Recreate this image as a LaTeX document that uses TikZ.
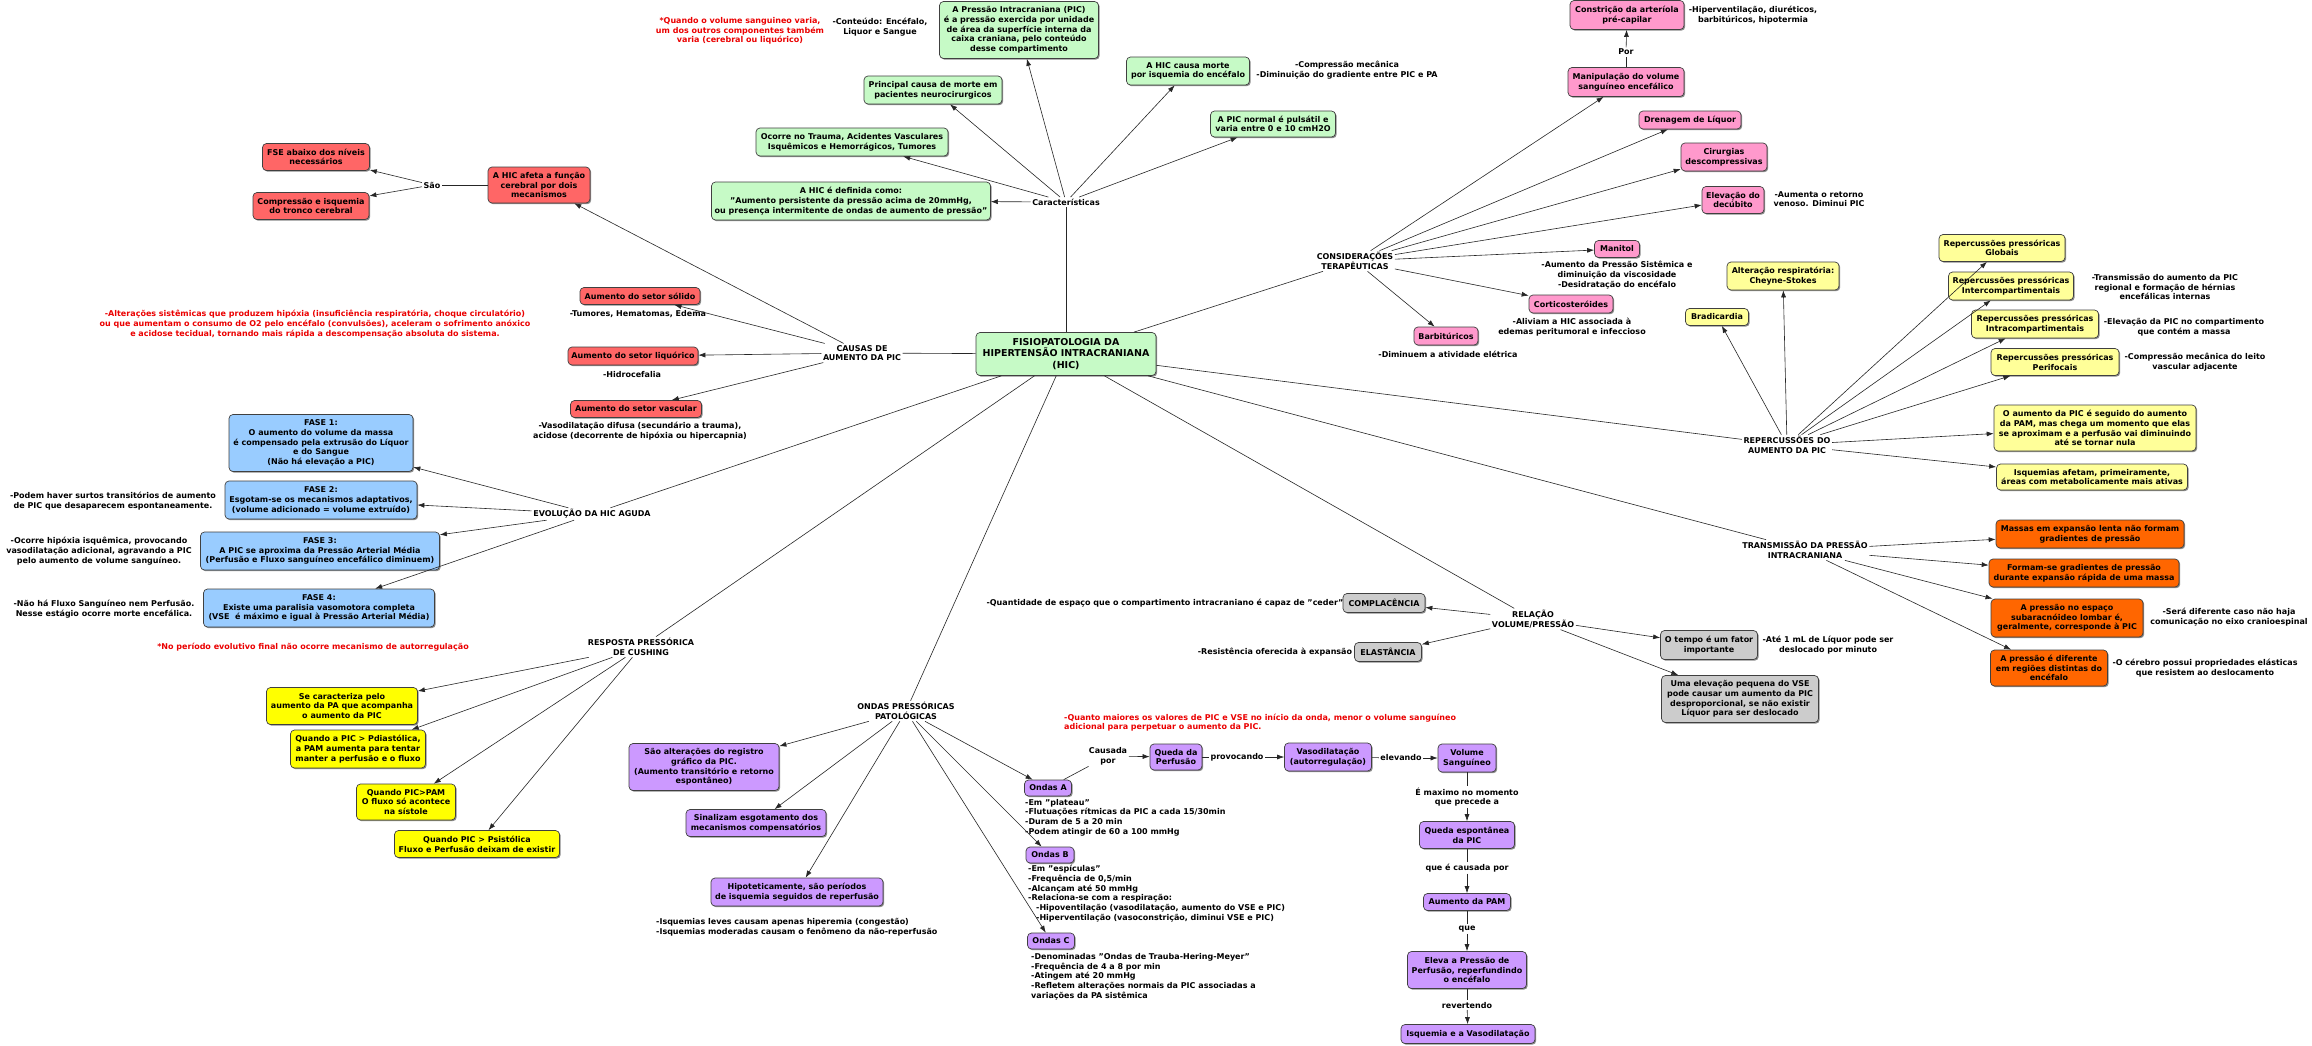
\documentclass[tikz,border=0pt]{standalone}
\usepackage{fontspec}
\setmainfont{DejaVu Sans}
\usetikzlibrary{arrows.meta,shadows}
\definecolor{cgreen}{RGB}{198,250,198}
\definecolor{cred}{RGB}{255,102,102}
\definecolor{cpink}{RGB}{255,153,204}
\definecolor{cylight}{RGB}{255,255,153}
\definecolor{cblue}{RGB}{153,204,255}
\definecolor{cyel}{RGB}{255,255,0}
\definecolor{corange}{RGB}{255,102,0}
\definecolor{cpurple}{RGB}{204,153,255}
\definecolor{cgray}{RGB}{204,204,204}
\definecolor{ctxtred}{RGB}{235,0,0}
\newcommand\mapfont{\fontsize{8}{9.7}\selectfont\bfseries}
\newcommand\bigmapfont{\fontsize{9.5}{11.5}\selectfont\bfseries}
\begin{document}
\begin{tikzpicture}[x=1pt,y=1pt,
  bx/.style={draw=black!75, line width=0.7pt, rounded corners=4pt, align=center, font=\mapfont, inner sep=1pt,
     drop shadow={shadow xshift=1.2pt, shadow yshift=-1.2pt, fill=black!45, opacity=1}},
  sz/.style 2 args={minimum width=#1, minimum height=#2},
  gbox/.style={bx, fill=cgreen},
  rbox/.style={bx, fill=cred},
  pbox/.style={bx, fill=cpink},
  ylbox/.style={bx, fill=cylight},
  blbox/.style={bx, fill=cblue},
  yybox/.style={bx, fill=cyel},
  obox/.style={bx, fill=corange},
  vlbox/.style={bx, fill=cpurple},
  kbox/.style={bx, fill=cgray},
  lbl/.style={align=center, font=\mapfont, inner sep=1.5pt},
  note/.style={align=center, font=\mapfont, inner sep=0pt},
  lnote/.style={align=left, font=\mapfont, inner sep=0pt, anchor=west},
  rnote/.style={note, text=ctxtred},
  ln/.style={draw=black!85, line width=0.6pt},
  ar/.style={ln, -{Latex[length=7pt,width=5pt]}},
]
\useasboundingbox (0,0) rectangle (2312,-1045);
\fill[white] (0,0) rectangle (2312,-1045);

% ---------- central ----------
\node[gbox, sz={180}{43}, font=\bigmapfont] (central) at (1066,-354) {FISIOPATOLOGIA DA\\HIPERTENSÃO INTRACRANIANA\\(HIC)};

% ---------- Caracteristicas ----------
\node[lbl] (carac) at (1066,-202) {Características};
\node[gbox, sz={159}{57}] (pic) at (1019,-30) {A Pressão Intracraniana (PIC)\\é a pressão exercida por unidade\\de área da superfície interna da\\caixa craniana, pelo conteúdo\\desse compartimento};
\node[gbox, sz={138}{28}] (principal) at (933,-90) {Principal causa de morte em\\pacientes neurocirurgicos};
\node[gbox, sz={192}{28}] (ocorre) at (852,-142) {Ocorre no Trauma, Acidentes Vasculares\\Isquêmicos e Hemorrágicos, Tumores};
\node[gbox, sz={279}{38}] (definida) at (851,-201) {A HIC é definida como:\\"Aumento persistente da pressão acima de 20mmHg,\\ou presença intermitente de ondas de aumento de pressão"};
\node[gbox, sz={123}{28}] (morte) at (1188,-71) {A HIC causa morte\\por isquemia do encéfalo};
\node[gbox, sz={125}{26}] (normal) at (1273,-124) {A PIC normal é pulsátil e\\varia entre 0 e 10 cmH2O};
\node[rnote] (redvol) at (740,-31) {*Quando o volume sanguineo varia,\\um dos outros componentes também\\varia (cerebral ou liquórico)};
\node[note] (conteudo) at (880,-27) {-Conteúdo: Encéfalo,\\Liquor e Sangue};
\node[note] (compmec) at (1347,-70) {-Compressão mecânica\\-Diminuição do gradiente entre PIC e PA};

% ---------- Causas ----------
\node[lbl] (causas) at (862,-353) {CAUSAS DE\\AUMENTO DA PIC};
\node[rbox, sz={102}{36}] (afeta) at (539,-185) {A HIC afeta a função\\cerebral por dois\\mecanismos};
\node[lbl] (sao) at (432,-185) {São};
\node[rbox, sz={107}{27}] (fse) at (316,-157) {FSE abaixo dos níveis\\necessários};
\node[rbox, sz={116}{27}] (compr) at (311,-206) {Compressão e isquemia\\do tronco cerebral};
\node[rbox, sz={120}{17}] (solido) at (640,-296) {Aumento do setor sólido};
\node[note] (tumores) at (638,-314) {-Tumores, Hematomas, Edema};
\node[rbox, sz={130}{18}] (liquorico) at (633,-356) {Aumento do setor liquórico};
\node[note] (hidro) at (632,-375) {-Hidrocefalia};
\node[rbox, sz={131}{17}] (vascular) at (636,-409) {Aumento do setor vascular};
\node[note] (vasodif) at (640,-431) {-Vasodilatação difusa (secundário a trauma),\\acidose (decorrente de hipóxia ou hipercapnia)};
\node[rnote] (redsist) at (315,-324) {-Alterações sistêmicas que produzem hipóxia (insuficiência respiratória, choque circulatório)\\ou que aumentam o consumo de O2 pelo encéfalo (convulsões), aceleram o sofrimento anóxico\\e acidose tecidual, tornando mais rápida a descompensação absoluta do sistema.};

% ---------- Evolucao ----------
\node[lbl] (evol) at (592,-514) {EVOLUÇÃO DA HIC AGUDA};
\node[blbox, sz={184}{57}] (f1) at (321,-443) {FASE 1:\\O aumento do volume da massa\\é compensado pela extrusão do Líquor\\e do Sangue\\(Não há elevação a PIC)};
\node[blbox, sz={192}{38}] (f2) at (321,-500) {FASE 2:\\Esgotam-se os mecanismos adaptativos,\\(volume adicionado = volume extruído)};
\node[blbox, sz={239}{38}] (f3) at (320,-551) {FASE 3:\\A PIC se aproxima da Pressão Arterial Média\\(Perfusão e Fluxo sanguíneo encefálico diminuem)};
\node[blbox, sz={231}{38}] (f4) at (319,-608) {FASE 4:\\Existe uma paralisia vasomotora completa\\(VSE\ \ é máximo e igual à Pressão Arterial Média)};
\node[note] (podem) at (113,-501) {-Podem haver surtos transitórios de aumento\\de PIC que desaparecem espontaneamente.};
\node[note] (hipox) at (99,-551) {-Ocorre hipóxia isquêmica, provocando\\vasodilatação adicional, agravando a PIC\\pelo aumento de volume sanguíneo.};
\node[note] (naoha) at (104,-609) {-Não há Fluxo Sanguíneo nem Perfusão.\\Nesse estágio ocorre morte encefálica.};
\node[rnote] (redfinal) at (313,-647) {*No período evolutivo final não ocorre mecanismo de autorregulação};

% ---------- Cushing ----------
\node[lbl] (resp) at (641,-647) {RESPOSTA PRESSÓRICA\\DE CUSHING};
\node[yybox, sz={151}{37}] (cush1) at (342,-706) {Se caracteriza pelo\\aumento da PA que acompanha\\o aumento da PIC};
\node[yybox, sz={135}{38}] (cush2) at (358,-749) {Quando a PIC > Pdiastólica,\\a PAM aumenta para tentar\\manter a perfusão e o fluxo};
\node[yybox, sz={99}{36}] (cush3) at (406,-802) {Quando PIC>PAM\\O fluxo só acontece\\na sístole};
\node[yybox, sz={165}{27}] (cush4) at (477,-844) {Quando PIC > Psistólica\\Fluxo e Perfusão deixam de existir};

% ---------- Ondas ----------
\node[lbl] (ondas) at (906,-711) {ONDAS PRESSÓRICAS\\PATOLÓGICAS};
\node[vlbox, sz={150}{47}] (salt) at (704,-767) {São alterações do registro\\gráfico da PIC.\\(Aumento transitório e retorno\\espontâneo)};
\node[vlbox, sz={140}{27}] (sinal) at (756,-823) {Sinalizam esgotamento dos\\mecanismos compensatórios};
\node[vlbox, sz={172}{28}] (hipot) at (797,-892) {Hipoteticamente, são períodos\\de isquemia seguidos de reperfusão};
\node[lnote] (isqleves) at (656,-927) {-Isquemias leves causam apenas hiperemia (congestão)\\-Isquemias moderadas causam o fenômeno da não-reperfusão};
\node[vlbox, sz={47}{16}] (ondasA) at (1048,-788) {Ondas A};
\node[vlbox, sz={48}{16}] (ondasB) at (1050,-855) {Ondas B};
\node[vlbox, sz={47}{16}] (ondasC) at (1051,-941) {Ondas C};
\node[lnote] (txtA) at (1025,-817.5) {-Em "plateau"\\-Flutuações rítmicas da PIC a cada 15/30min\\-Duram de 5 a 20 min\\-Podem atingir de 60 a 100 mmHg};
\node[lnote] (txtB) at (1028,-893.5) {-Em "espículas"\\-Frequência de 0,5/min\\-Alcançam até 50 mmHg\\-Relaciona-se com a respiração:\\\hspace*{1em}-Hipoventilação (vasodilatação, aumento do VSE e PIC)\\\hspace*{1em}-Hiperventilação (vasoconstrição, diminui VSE e PIC)};
\node[lnote] (txtC) at (1031,-976.5) {-Denominadas "Ondas de Trauba-Hering-Meyer"\\-Frequência de 4 a 8 por min\\-Atingem até 20 mmHg\\-Refletem alterações normais da PIC associadas a\\variações da PA sistêmica};
\node[lnote, text=ctxtred] (redondas) at (1064,-722.5) {-Quanto maiores os valores de PIC e VSE no início da onda, menor o volume sanguíneo\\adicional para perpetuar o aumento da PIC.};
\node[lbl] (causada) at (1108,-756) {Causada\\por};
\node[vlbox, sz={52}{26}] (queda) at (1176,-757) {Queda da\\Perfusão};
\node[lbl] (provoc) at (1237,-757) {provocando};
\node[vlbox, sz={87}{28}] (vaso) at (1328,-757) {Vasodilatação\\(autorregulação)};
\node[lbl] (elevando) at (1401,-758) {elevando};
\node[vlbox, sz={58}{28}] (volume) at (1467,-758) {Volume\\Sanguíneo};
\node[lbl] (emax) at (1467,-797) {É maximo no momento\\que precede a};
\node[vlbox, sz={95}{27}] (qesp) at (1467,-835) {Queda espontânea\\da PIC};
\node[lbl] (qcausada) at (1467,-868) {que é causada por};
\node[vlbox, sz={87}{17}] (aumpam) at (1467,-902) {Aumento da PAM};
\node[lbl] (que) at (1467,-929) {que};
\node[vlbox, sz={119}{37}] (eleva) at (1467,-970) {Eleva a Pressão de\\Perfusão, reperfundindo\\o encéfalo};
\node[lbl] (revert) at (1467,-1005) {revertendo};
\node[vlbox, sz={134}{19}] (isqv) at (1468,-1034) {Isquemia e a Vasodilatação};

% ---------- Consideracoes ----------
\node[lbl] (cons) at (1355,-261) {CONSIDERAÇÕES\\TERAPÊUTICAS};
\node[pbox, sz={114}{29}] (constr) at (1627,-15) {Constrição da arteríola\\pré-capilar};
\node[note] (hiperv) at (1753,-15) {-Hiperventilação, diuréticos,\\barbitúricos, hipotermia};
\node[lbl] (por) at (1626,-52) {Por};
\node[pbox, sz={116}{29}] (manip) at (1626,-82) {Manipulação do volume\\sanguíneo encefálico};
\node[pbox, sz={102}{18}] (drenagem) at (1690,-120) {Drenagem de Líquor};
\node[pbox, sz={86}{28}] (cirurgias) at (1724,-157) {Cirurgias\\descompressivas};
\node[pbox, sz={62}{27}] (elevacao) at (1733,-200) {Elevação do\\decúbito};
\node[note] (aumret) at (1819,-199) {-Aumenta o retorno\\venoso. Diminui PIC};
\node[pbox, sz={45}{17}] (manitol) at (1617,-249) {Manitol};
\node[note] (aumpress) at (1617,-275) {-Aumento da Pressão Sistêmica e\\diminuição da viscosidade\\-Desidratação do encéfalo};
\node[pbox, sz={84}{18}] (cortico) at (1571,-304) {Corticosteróides};
\node[note] (aliviam) at (1572,-327) {-Aliviam a HIC associada à\\edemas peritumoral e infeccioso};
\node[pbox, sz={64}{18}] (barbi) at (1446,-336) {Barbitúricos};
\node[note] (diminuem) at (1448,-354) {-Diminuem a atividade elétrica};

% ---------- Repercussoes ----------
\node[lbl] (reperc) at (1787,-445) {REPERCUSSÕES DO\\AUMENTO DA PIC};
\node[ylbox, sz={126}{27}] (globais) at (2002,-248) {Repercussões pressóricas\\Globais};
\node[ylbox, sz={112}{28}] (alter) at (1783,-276) {Alteração respiratória:\\Cheyne-Stokes};
\node[ylbox, sz={63}{17}] (bradi) at (1717,-317) {Bradicardia};
\node[ylbox, sz={125}{28}] (inter) at (2011,-286) {Repercussões pressóricas\\Intercompartimentais};
\node[note] (transtxt) at (2165,-287) {-Transmissão do aumento da PIC\\regional e formação de hérnias\\encefálicas internas};
\node[ylbox, sz={127}{28}] (intra) at (2035,-324) {Repercussões pressóricas\\Intracompartimentais};
\node[note] (elevpic) at (2184,-327) {-Elevação da PIC no compartimento\\que contém a massa};
\node[ylbox, sz={128}{27}] (peri) at (2055,-362) {Repercussões pressóricas\\Perifocais};
\node[note] (compleito) at (2195,-362) {-Compressão mecânica do leito\\vascular adjacente};
\node[ylbox, sz={202}{46}] (oaum) at (2095,-428) {O aumento da PIC é seguido do aumento\\da PAM, mas chega um momento que elas\\se aproximam e a perfusão vai diminuindo\\até se tornar nula};
\node[ylbox, sz={191}{26}] (isq) at (2092,-477) {Isquemias afetam, primeiramente,\\áreas com metabolicamente mais ativas};

% ---------- Transmissao ----------
\node[lbl] (transm) at (1805,-550) {TRANSMISSÃO DA PRESSÃO\\INTRACRANIANA};
\node[obox, sz={188}{28}] (massas) at (2090,-534) {Massas em expansão lenta não formam\\gradientes de pressão};
\node[obox, sz={190}{28}] (formam) at (2084,-573) {Formam-se gradientes de pressão\\durante expansão rápida de uma massa};
\node[obox, sz={152}{38}] (subarac) at (2067,-618) {A pressão no espaço\\subaracnóideo lombar é,\\geralmente, corresponde à PIC};
\node[note] (sera) at (2229,-617) {-Será diferente caso não haja\\comunicação no eixo cranioespinal};
\node[obox, sz={117}{36}] (dif) at (2049,-668) {A pressão é diferente\\em regiões distintas do\\encéfalo};
\node[note] (cerebro) at (2205,-668) {-O cérebro possui propriedades elásticas\\que resistem ao deslocamento};

% ---------- Relacao volume/pressao ----------
\node[lbl] (relacao) at (1533,-619) {RELAÇÃO\\VOLUME/PRESSÃO};
\node[kbox, sz={82}{19}] (compl) at (1384,-603) {COMPLACÊNCIA};
\node[note] (quant) at (1165,-603) {-Quantidade de espaço que o compartimento intracraniano é capaz de "ceder"};
\node[kbox, sz={67}{19}] (elast) at (1388,-652) {ELASTÂNCIA};
\node[note] (resist) at (1275,-652) {-Resistência oferecida à expansão};
\node[kbox, sz={97}{29}] (tempo) at (1709,-645) {O tempo é um fator\\importante};
\node[note] (ate1) at (1828,-645) {-Até 1 mL de Líquor pode ser\\deslocado por minuto};
\node[kbox, sz={157}{47}] (elev) at (1740,-699) {Uma elevação pequena do VSE\\pode causar um aumento da PIC\\desproporcional, se não existir\\Líquor para ser deslocado};

% ---------- connectors ----------
\draw[ln] (central) -- (carac);
\foreach \t in {pic,principal,ocorre,definida,morte,normal} \draw[ar] (carac) -- (\t);
\draw[ln] (central) -- (causas);
\foreach \t in {afeta,solido,liquorico,vascular} \draw[ar] (causas) -- (\t);
\draw[ln] (afeta) -- (sao);
\draw[ar] (sao) -- (fse);
\draw[ar] (sao) -- (compr);
\draw[ln] (central) -- (evol);
\foreach \t in {f1,f2,f3,f4} \draw[ar] (evol) -- (\t);
\draw[ln] (central) -- (resp);
\foreach \t in {cush1,cush2,cush3,cush4} \draw[ar] (resp) -- (\t);
\draw[ln] (central) -- (ondas);
\foreach \t in {salt,sinal,hipot,ondasA,ondasB,ondasC} \draw[ar] (ondas) -- (\t);
\draw[ln] (ondasA) -- (causada);
\draw[ar] (causada) -- (queda);
\draw[ln] (queda) -- (provoc);
\draw[ar] (provoc) -- (vaso);
\draw[ln] (vaso) -- (elevando);
\draw[ar] (elevando) -- (volume);
\draw[ln] (volume) -- (emax);
\draw[ar] (emax) -- (qesp);
\draw[ln] (qesp) -- (qcausada);
\draw[ar] (qcausada) -- (aumpam);
\draw[ln] (aumpam) -- (que);
\draw[ar] (que) -- (eleva);
\draw[ln] (eleva) -- (revert);
\draw[ar] (revert) -- (isqv);
\draw[ln] (central) -- (cons);
\foreach \t in {manip,drenagem,cirurgias,elevacao,manitol,cortico,barbi} \draw[ar] (cons) -- (\t);
\draw[ln] (manip) -- (por);
\draw[ar] (por) -- (constr);
\draw[ln] (central) -- (reperc);
\foreach \t in {globais,inter,intra,peri,oaum,isq,alter,bradi} \draw[ar] (reperc) -- (\t);
\draw[ln] (central) -- (transm);
\foreach \t in {massas,formam,subarac,dif} \draw[ar] (transm) -- (\t);
\draw[ln] (central) -- (relacao);
\foreach \t in {compl,elast,tempo,elev} \draw[ar] (relacao) -- (\t);
\end{tikzpicture}
\end{document}
